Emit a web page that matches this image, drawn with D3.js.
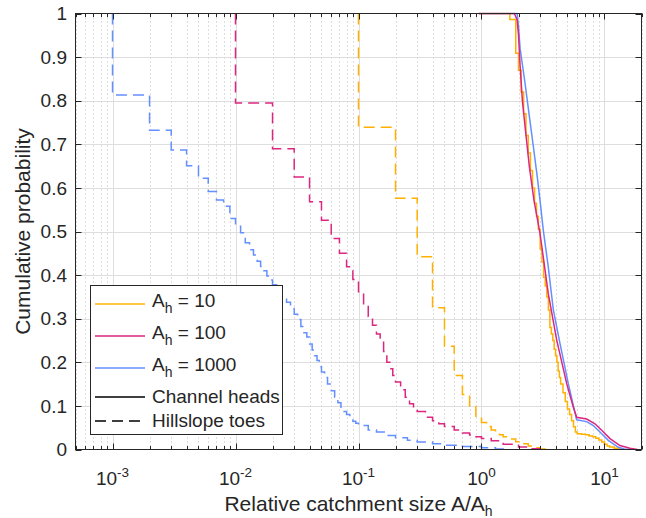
<!DOCTYPE html>
<html><head><meta charset="utf-8">
<script src="https://cdn.jsdelivr.net/npm/d3@7"></script>
<style>
body{margin:0;background:#fff}
svg{display:block}
text{font-family:"Liberation Sans",Arial,Helvetica,sans-serif;fill:#262626}
</style>
</head><body>
<svg id="chart" width="646" height="518"></svg>
<script>
// ---------- data ----------
const seriesNames = ["10", "100", "1000"];
const seriesColors = ["#FFB000", "#DC267F", "#648FFF"];
const xTickValues = [1e-3, 1e-2, 1e-1, 1, 10];
const xTickExponents = ["-3", "-2", "-1", "0", "1"];
const yTickValues = [0,0.1,0.2,0.3,0.4,0.5,0.6,0.7,0.8,0.9,1];
const yTickLabels = ["0","0.1","0.2","0.3","0.4","0.5","0.6","0.7","0.8","0.9","1"];

// Hillslope toes (dashed, step functions)
const toes10X = [0.1,0.1,0.2,0.3,0.4,0.5,0.6,0.7,0.8,0.9,1.0,1.1,1.2,1.3,1.4,1.5,1.7,1.9,2.1,2.4,2.7,3.0,3.5];
const toes10P = [1,0.739,0.576,0.442,0.325,0.237,0.170,0.126,0.099,0.076,0.062,0.053,0.045,0.040,0.034,0.029,0.024,0.018,0.013,0.008,0.004,0.001,0];

const toes100X = [0.01,0.01,0.02,0.03,0.04,0.05,0.06,0.07,0.08,0.09,0.10,0.11,0.12,0.13,0.14,0.15,0.16,0.17,0.18,0.19,0.20,0.22,0.24,0.26,0.28,0.30,0.35,0.40,0.45,0.50,0.60,0.70,0.80,0.90,1.0,1.2,1.5,2.0,2.5,3.0];
const toes100P = [1,0.795,0.69,0.625,0.568,0.526,0.484,0.45,0.419,0.39,0.362,0.33,0.305,0.285,0.265,0.25,0.225,0.2,0.185,0.17,0.155,0.137,0.12,0.105,0.094,0.087,0.074,0.066,0.059,0.053,0.045,0.038,0.033,0.029,0.025,0.02,0.012,0.006,0.002,0];

const toes1000X = [0.001,0.001,0.002,0.003,0.004,0.005,0.006,0.007,0.008,0.009,0.010,0.011,0.012,0.013,0.014,0.015,0.016,0.017,0.018,0.019,0.020,0.022,0.024,0.026,0.028,0.030,0.032,0.034,0.036,0.038,0.040,0.042,0.044,0.046,0.048,0.050,0.053,0.056,0.060,0.064,0.068,0.072,0.076,0.080,0.085,0.090,0.095,0.10,0.12,0.14,0.17,0.20,0.25,0.30,0.40,0.50,0.70,1.0,1.3,1.6];
const toes1000P = [1,0.813,0.732,0.687,0.651,0.622,0.592,0.572,0.558,0.530,0.512,0.497,0.474,0.458,0.446,0.432,0.420,0.410,0.398,0.389,0.378,0.365,0.352,0.338,0.325,0.31,0.298,0.282,0.268,0.258,0.242,0.228,0.215,0.204,0.19,0.178,0.165,0.15,0.135,0.12,0.107,0.095,0.087,0.08,0.072,0.065,0.06,0.055,0.045,0.04,0.032,0.027,0.021,0.017,0.013,0.010,0.007,0.004,0.001,0];

// Channel heads (solid)
const heads10X = [0.95,1.7,1.9,2.0,2.1,2.2,2.3,2.4,2.5,2.6,2.7,2.8,2.9,3.0,3.1,3.2,3.3,3.4,3.5,3.6,3.7,3.8,3.9,4.0,4.1,4.2,4.3,4.4,4.6,4.8,5.0,5.2,5.4,5.6,5.8,6.0,6.5,7.0,7.5,8.0,8.5,9.0,9.5,10,10.5,11,12,13,14];
const heads10P = [1,0.986,0.909,0.87,0.82,0.77,0.72,0.68,0.64,0.60,0.565,0.535,0.505,0.46,0.43,0.395,0.375,0.35,0.32,0.28,0.265,0.25,0.23,0.215,0.2,0.18,0.165,0.15,0.13,0.11,0.093,0.08,0.066,0.052,0.04,0.036,0.035,0.034,0.031,0.029,0.026,0.022,0.017,0.012,0.008,0.006,0.003,0.001,0];

const heads100X = [0.95,1.85,1.95,2.0,2.06,2.15,2.29,2.45,2.67,2.99,3.49,4.09,4.93,5.58,5.94,7.16,8.37,9.49,11.09,13.36,16.1,18.5];
const heads100P = [1,1,0.985,0.95,0.88,0.80,0.726,0.649,0.572,0.496,0.358,0.251,0.151,0.097,0.074,0.07,0.059,0.044,0.025,0.009,0.003,0];

const heads1000X = [0.95,1.95,2.0,2.06,2.26,2.45,2.64,2.84,2.99,3.18,3.49,3.84,4.35,5.08,5.94,7.16,8.11,9.49,10.74,12.95,14.5,16];
const heads1000P = [1,1,0.97,0.92,0.84,0.764,0.695,0.626,0.572,0.503,0.419,0.32,0.243,0.151,0.068,0.064,0.055,0.036,0.021,0.005,0.001,0];

// ---------- chart ----------
const L = 75.5, R = 641.5, T = 13.5, B = 449.5;
const axisColor = "#262626";
const svg = d3.select("#chart");
const x = d3.scaleLog().domain([5e-4, 20]).range([L, R]);
const y = d3.scaleLinear().domain([0, 1]).range([B, T]);

svg.append("rect").attr("width", 646).attr("height", 518).attr("fill", "#fff");
svg.append("rect").attr("x", L).attr("y", T).attr("width", R - L).attr("height", B - T).attr("fill", "#fff");

// minor x values
const minorX = [];
for (let d = -4; d <= 1; d++) {
  for (let m = 2; m <= 9; m++) {
    const v = m * Math.pow(10, d);
    if (v >= 5e-4 && v <= 20) minorX.push(v);
  }
}
const grid = svg.append("g");
grid.selectAll(".minor").data(minorX).join("line")
  .attr("x1", d => Math.round(x(d)) + 0.5).attr("x2", d => Math.round(x(d)) + 0.5)
  .attr("y1", T).attr("y2", B)
  .attr("stroke", "#bcbcbc").attr("stroke-width", 1).attr("stroke-dasharray", "1,3");
grid.selectAll(".majx").data(xTickValues).join("line")
  .attr("x1", d => Math.round(x(d)) + 0.5).attr("x2", d => Math.round(x(d)) + 0.5)
  .attr("y1", T).attr("y2", B)
  .attr("stroke", "#dedede").attr("stroke-width", 1);
grid.selectAll(".majy").data(yTickValues.slice(1, -1)).join("line")
  .attr("x1", L).attr("x2", R)
  .attr("y1", d => Math.round(y(d)) + 0.5).attr("y2", d => Math.round(y(d)) + 0.5)
  .attr("stroke", "#dedede").attr("stroke-width", 1);

// curves
svg.append("defs").append("clipPath").attr("id", "clip")
  .append("rect").attr("x", L - 1).attr("y", T - 1).attr("width", R - L + 2).attr("height", B - T + 2);
const plot = svg.append("g").attr("clip-path", "url(#clip)");

function pts(xs, ps) { return xs.map((v, i) => [v, ps[i]]); }
const stepLine = d3.line().x(d => x(d[0])).y(d => y(d[1])).curve(d3.curveStepAfter);
const smoothLine = d3.line().x(d => x(d[0])).y(d => y(d[1]));

const toes = [pts(toes10X, toes10P), pts(toes100X, toes100P), pts(toes1000X, toes1000P)];
toes.forEach((data, i) => {
  plot.append("path").attr("d", stepLine(data)).attr("fill", "none")
    .attr("stroke", seriesColors[i]).attr("stroke-width", 1.5)
    .attr("stroke-dasharray", "11,6");
});
plot.append("path").attr("d", stepLine(pts(heads10X, heads10P))).attr("fill", "none")
  .attr("stroke", seriesColors[0]).attr("stroke-width", 1.5);
plot.append("path").attr("d", smoothLine(pts(heads1000X, heads1000P))).attr("fill", "none")
  .attr("stroke", seriesColors[2]).attr("stroke-width", 1.5);
plot.append("path").attr("d", smoothLine(pts(heads100X, heads100P))).attr("fill", "none")
  .attr("stroke", seriesColors[1]).attr("stroke-width", 1.5);

// axes frame and ticks
const ax = svg.append("g");
ax.append("rect").attr("x", L).attr("y", T).attr("width", R - L).attr("height", B - T)
  .attr("fill", "none").attr("stroke", axisColor).attr("stroke-width", 1);
const tk = (v) => Math.round(x(v)) + 0.5;
ax.selectAll(".mt").data(minorX).join("g").each(function(d) {
  const g = d3.select(this);
  g.append("line").attr("x1", tk(d)).attr("x2", tk(d)).attr("y1", B).attr("y2", B - 3.5).attr("stroke", axisColor);
  g.append("line").attr("x1", tk(d)).attr("x2", tk(d)).attr("y1", T).attr("y2", T + 3.5).attr("stroke", axisColor);
});
ax.selectAll(".Mt").data(xTickValues).join("g").each(function(d) {
  const g = d3.select(this);
  g.append("line").attr("x1", tk(d)).attr("x2", tk(d)).attr("y1", B).attr("y2", B - 6).attr("stroke", axisColor);
  g.append("line").attr("x1", tk(d)).attr("x2", tk(d)).attr("y1", T).attr("y2", T + 6).attr("stroke", axisColor);
});
ax.selectAll(".yt").data(yTickValues).join("g").each(function(d) {
  const g = d3.select(this);
  const yy = Math.round(y(d)) + 0.5;
  g.append("line").attr("x1", L).attr("x2", L + 6).attr("y1", yy).attr("y2", yy).attr("stroke", axisColor);
  g.append("line").attr("x1", R).attr("x2", R - 6).attr("y1", yy).attr("y2", yy).attr("stroke", axisColor);
});

// tick labels
svg.selectAll(".ytl").data(yTickValues).join("text")
  .attr("x", 67).attr("y", d => y(d)).attr("dy", "0.35em")
  .attr("text-anchor", "end").attr("font-size", 19)
  .text((d, i) => yTickLabels[i]);
xTickValues.forEach((v, i) => {
  const t = svg.append("text").attr("x", x(v)).attr("y", 485)
    .attr("text-anchor", "middle").attr("font-size", 19);
  t.append("tspan").text("10");
  t.append("tspan").attr("dy", -8).attr("font-size", 13.5).text(xTickExponents[i]);
});

// axis labels
const xl = svg.append("text").attr("x", (L + R) / 2).attr("y", 511)
  .attr("text-anchor", "middle").attr("font-size", 21);
xl.append("tspan").text("Relative catchment size A/A");
xl.append("tspan").attr("dy", 5).attr("font-size", 14).text("h");
svg.append("text").attr("transform", `translate(30,${(T + B) / 2}) rotate(-90)`)
  .attr("text-anchor", "middle").attr("font-size", 21)
  .text("Cumulative probability");

// legend
const lg = svg.append("g");
lg.append("rect").attr("x", 90.5).attr("y", 285.5).attr("width", 192).attr("height", 149)
  .attr("fill", "#fff").attr("stroke", axisColor).attr("stroke-width", 1);
const lineYs = [304, 336, 368, 397, 421];
seriesNames.forEach((n, i) => {
  lg.append("line").attr("x1", 95).attr("x2", 145).attr("y1", lineYs[i]).attr("y2", lineYs[i])
    .attr("stroke", seriesColors[i]).attr("stroke-width", 1.5);
  const t = lg.append("text").attr("x", 152).attr("y", lineYs[i] + 3).attr("font-size", 19);
  t.append("tspan").text("A");
  t.append("tspan").attr("dy", 6).attr("font-size", 14).text("h");
  t.append("tspan").attr("dy", -6).text(" = " + n);
});
lg.append("line").attr("x1", 95).attr("x2", 145).attr("y1", lineYs[3]).attr("y2", lineYs[3])
  .attr("stroke", "#000").attr("stroke-width", 1.5);
lg.append("text").attr("x", 152).attr("y", lineYs[3] + 6).attr("font-size", 19).text("Channel heads");
lg.append("line").attr("x1", 95).attr("x2", 145).attr("y1", lineYs[4]).attr("y2", lineYs[4])
  .attr("stroke", "#000").attr("stroke-width", 1.5).attr("stroke-dasharray", "11,6");
lg.append("text").attr("x", 152).attr("y", lineYs[4] + 6).attr("font-size", 19).text("Hillslope toes");
</script>
</body></html>
